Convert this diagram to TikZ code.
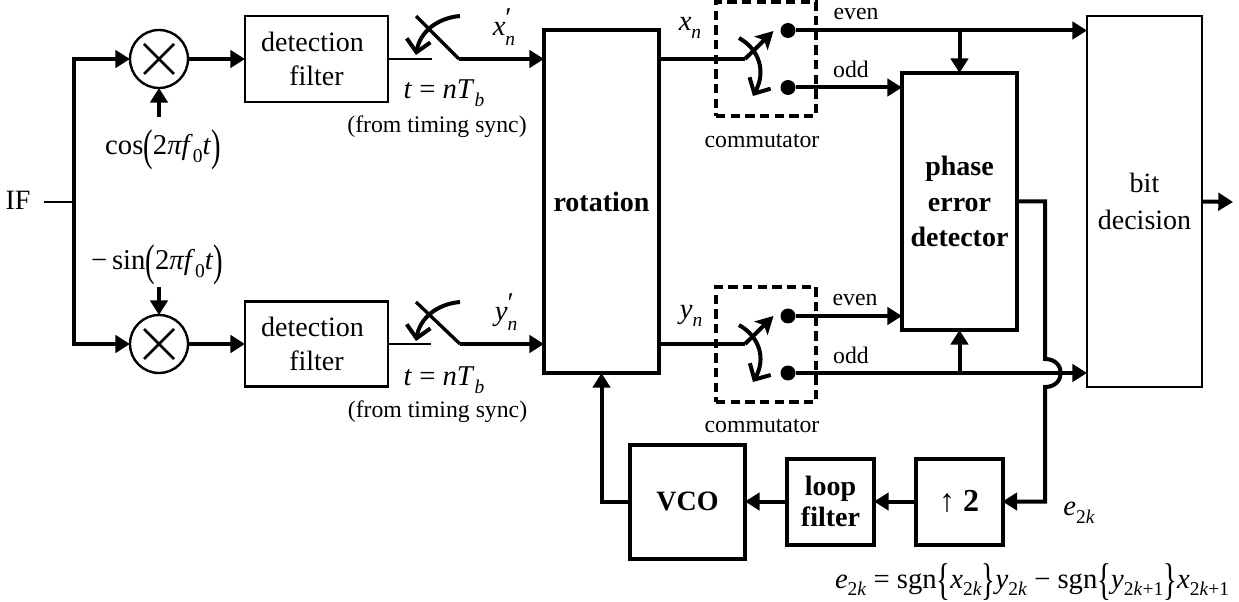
\documentclass[tikz,border=0pt]{standalone}
\usepackage{fontspec}
\usepackage{graphicx}
\setmainfont{Liberation Serif}
\usetikzlibrary{arrows.meta}
\newcommand\lowsub[1]{\raisebox{-0.27em}{\scalebox{0.68}{#1}}}
\newcommand\bigbr[1]{\raisebox{-0.22em}{\scalebox{1}[1.55]{#1}}}
\newcommand\ital[1]{\textit{#1}}
\def\u{0.75pt}
\tikzset{
  big/.style={font=\fontsize{21}{25}\selectfont},
  small/.style={font=\fontsize{17.8}{21}\selectfont},
  label/.style={inner sep=0pt,outer sep=0pt,align=center},
  formula/.style={label,font=\fontsize{21.5}{25}\selectfont},
  thinbox/.style={draw,line width=1.8pt,inner sep=0pt,outer sep=0pt,align=center,big,minimum width=#1*\u},
  thickbox/.style={draw,line width=3pt,inner sep=0pt,outer sep=0pt,align=center,big,minimum width=#1*\u},
  tall/.style={minimum height=#1*\u},
  mixer/.style={draw,circle,line width=1.8pt,minimum size=58*\u,inner sep=0pt,outer sep=0pt},
  contact/.style={fill,circle,minimum size=15*\u,inner sep=0pt,outer sep=0pt},
  heavy/.style={line width=3pt},
  medium/.style={line width=2.5pt},
  light/.style={line width=1.7pt},
  tip/.style={-{Triangle[length=11pt,width=13pt]}},
  barb/.style={-{Straight Barb[length=9pt,width=18pt]}},
  swtip/.style={-{Stealth[length=13pt,width=14pt,inset=3pt]}},
  commbox/.style={draw,line width=2.4pt,dash pattern=on 7pt off 4pt,inner sep=0pt,minimum width=100*\u,minimum height=#1*\u},
}
\begin{document}
\begin{tikzpicture}[x=0.75pt,y=-0.75pt]
\useasboundingbox (0,0) rectangle (1239,602);
% blocks
\node[mixer] (m1) at (159,59) {};
\node[mixer] (m2) at (159,344) {};
\node[thinbox=143,tall=86] (f1) at (316.5,59) {detection\hspace*{6pt}\\[1pt]filter};
\node[thinbox=143,tall=85] (f2) at (316.5,344) {detection\hspace*{6pt}\\[1pt]filter};
\node[thickbox=115,tall=343] (rot) at (601.5,201.5) {\textbf{rotation}};
\node[thickbox=115,tall=257] (ped) at (959.5,201.5) {\textbf{phase}\\[1.5pt]\textbf{error}\\[1.5pt]\textbf{detector}};
\node[thinbox=115,tall=371] (bit) at (1144.5,201.5) {bit\\[3pt]decision};
\node[thickbox=115,tall=114] (vco) at (687.5,501.5) {\textbf{VCO}};
\node[thickbox=87,tall=86] (lf) at (830.5,501.5) {\textbf{loop}\\[-1.5pt]\textbf{filter}};
\node[thickbox=87,tall=86] (up) at (959,501.5) {\fontsize{24}{28}\selectfont\textbf{↑ 2}};
% contacts
\node[contact] (d1) at (788,30.5) {};
\node[contact] (d2) at (788,87.5) {};
\node[contact] (d3) at (788,316) {};
\node[contact] (d4) at (788,373) {};
\node[commbox=114] (c1) at (766,59) {};
\node[commbox=115] (c2) at (766,344.5) {};
% free coordinates
\coordinate (in) at (44,202);
\coordinate (branch) at (74,202);
\coordinate (cosend) at (159,117);
\coordinate (sinend) at (159,287);
\coordinate (s1a) at (432,59);
\coordinate (s1b) at (459,59);
\coordinate (s1c) at (416,16);
\coordinate (s2a) at (431,344);
\coordinate (s2b) at (460,344);
\coordinate (s2c) at (416,302);
\coordinate (p1) at (745,59);
\coordinate (p2) at (745,344);
\coordinate (jt) at (1045,359);
\coordinate (jb) at (1045,387);
\coordinate (bitout) at (1233,202);
% input
\draw[light] (in) -- (branch);
\draw[heavy,tip,line join=miter] (branch) |- (m1.west);
\draw[heavy,tip,line join=miter] (branch) |- (m2.west);
\draw[heavy,tip] (cosend) -- (m1.south);
\draw[heavy,tip] (sinend) -- (m2.north);
\draw[light,line width=2pt] ([shift={(-15,-15)}]m1.center) -- ([shift={(15,15)}]m1.center);
\draw[light,line width=2pt] ([shift={(-15,15)}]m1.center) -- ([shift={(15,-15)}]m1.center);
\draw[light,line width=2pt] ([shift={(-15,-15)}]m2.center) -- ([shift={(15,15)}]m2.center);
\draw[light,line width=2pt] ([shift={(-15,15)}]m2.center) -- ([shift={(15,-15)}]m2.center);
\draw[heavy,tip] (m1.east) -- (f1.west);
\draw[heavy,tip] (m2.east) -- (f2.west);
% samplers
\draw[light] (f1.east) -- (s1a);
\draw[light] (f2.east) -- (s2a);
\draw[medium] (s1c) -- (s1b);
\draw[medium] (s2c) -- (s2b);
\draw[heavy,tip] (s1b) -- (s1b -| rot.west);
\draw[heavy,tip] (s2b) -- (s2b -| rot.west);
\draw[heavy,barb] (460,16) .. controls (437,18) and (420,32) .. (416,55);
\draw[heavy,barb] (460,302) .. controls (437,304) and (420,318) .. (416,341);
% commutators
\draw[medium] (p1 -| rot.east) -- (p1);
\draw[medium] (p2 -| rot.east) -- (p2);
\draw[heavy,swtip] (p1) -- (773.5,31);
\draw[heavy,swtip] (p2) -- (773.5,316);
\draw[heavy,barb] (739,38) .. controls (760,50) and (766,72) .. (753,96);
\draw[heavy,barb] (739,325) .. controls (760,337) and (766,359) .. (753,382);
% outputs
\draw[heavy,tip] (d1) -- (d1 -| bit.west);
\draw[heavy,tip] (d2) -- (d2 -| ped.west);
\draw[heavy,tip] (d3) -- (d3 -| ped.west);
\draw[heavy,tip] (d4) -- (d4 -| bit.west);
\draw[heavy,tip] (ped.north |- d1) -- (ped.north);
\draw[heavy,tip] (ped.south |- d4) -- (ped.south);
\draw[heavy,tip,line join=miter] (bit.east) -- (bitout);
% loop
\draw[heavy,tip,line join=miter] (ped.east) -| (jt) .. controls (1066,359) and (1066,387) .. (jb) |- (up.east);
\draw[heavy,tip] (up.west) -- (lf.east);
\draw[heavy,tip] (lf.west) -- (vco.east);
\draw[heavy,tip,line join=miter] (vco.west) -| (rot.south);
% labels
\node[label,big] (iflab) at (18,200) {IF};
\node[label,formula] (xp) at (504,27) {\ital{x}\rlap{\raisebox{0.3em}{′}}\raisebox{-0.08em}{\lowsub{\ital{n}}}};
\node[label,formula] (yp) at (506,312) {\ital{y}\rlap{\raisebox{0.3em}{′}}\raisebox{-0.08em}{\lowsub{\ital{n}}}};
\node[label,formula] (xn) at (690,28) {\ital{x}\lowsub{\ital{n}}};
\node[label,formula] (yn) at (691,316) {\ital{y}\lowsub{\ital{n}}};
\node[label,formula] (t1) at (444,93) {\ital{t} = \ital{nT}\lowsub{\ital{b}}};
\node[label,formula] (t2) at (444,380) {\ital{t} = \ital{nT}\lowsub{\ital{b}}};
\node[label,small] (ts1) at (437,127) {(from timing sync)};
\node[label,small] (ts2) at (437.5,412) {(from timing sync)};
\node[label,formula] (cosl) at (163,150) {cos\bigbr{(}2\ital{πf}\lowsub{0}\ital{t}\bigbr{)}};
\node[label,formula] (sinl) at (157,265) {−\,sin\bigbr{(}2\ital{πf}\lowsub{0}\ital{t}\bigbr{)}};
\node[label,small] (ev1) at (856,14) {even};
\node[label,small] (od1) at (851,69) {odd};
\node[label,small] (ev2) at (855,300) {even};
\node[label,small] (od2) at (851,355) {odd};
\node[label,small] (cm1) at (762,141) {commutator};
\node[label,small] (cm2) at (762,426) {commutator};
\node[label,formula] (e2k) at (1079,513) {\ital{e}\lowsub{2\ital{k}}};
\node[label,formula,anchor=west] (eq) at (835,582) {\ital{e}\lowsub{2\ital{k}} = sgn\bigbr{\{}\ital{x}\lowsub{2\ital{k}}\bigbr{\}}\ital{y}\lowsub{2\ital{k}} − sgn\bigbr{\{}\ital{y}\lowsub{2\ital{k}+1}\bigbr{\}}\ital{x}\lowsub{2\ital{k}+1}};
\end{tikzpicture}
\end{document}
